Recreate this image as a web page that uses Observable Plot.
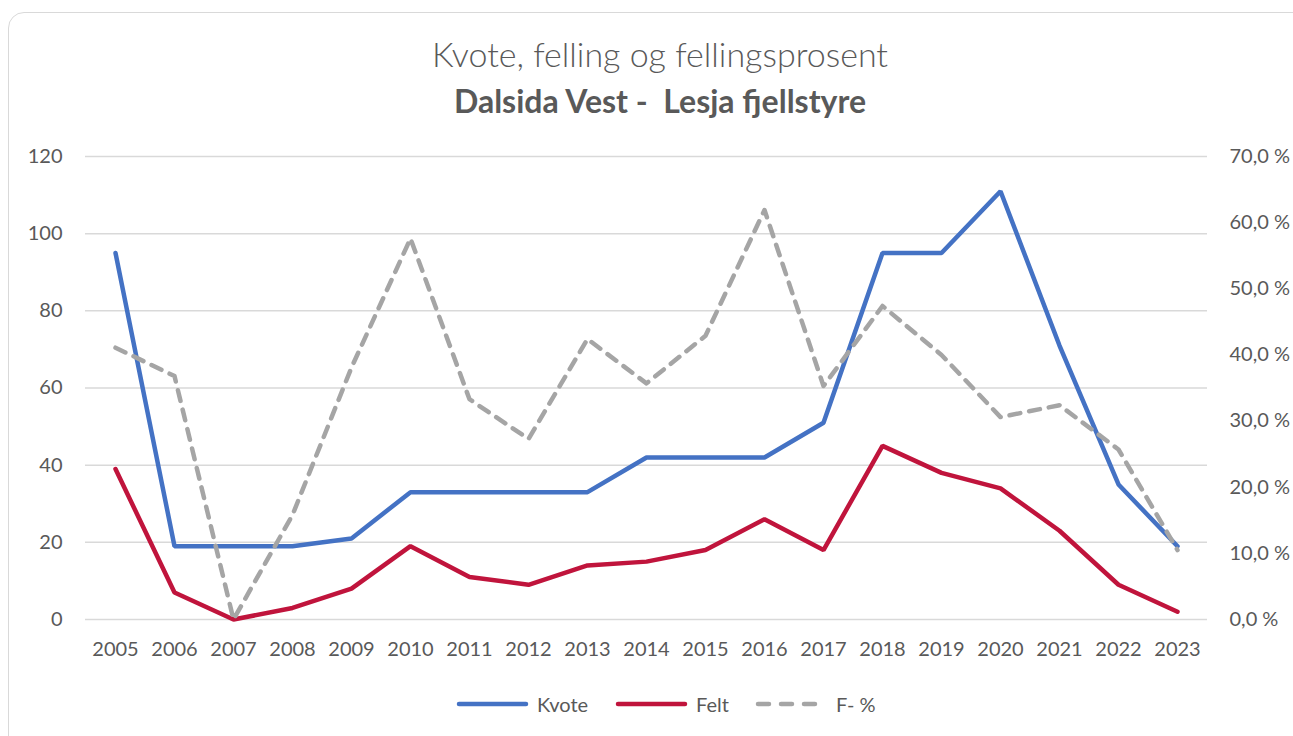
<!DOCTYPE html>
<html>
<head>
<meta charset="utf-8">
<script src="https://cdn.jsdelivr.net/npm/d3@7"></script>
<script src="https://cdn.jsdelivr.net/npm/@observablehq/plot@0.6"></script>
<style>
  html, body { margin:0; padding:0; background:#fff; width:1293px; height:736px; overflow:hidden; }
  body { position:relative; font-family: Lato, "Open Sans", sans-serif; color:#595959; }
  #frame { position:absolute; left:8px; top:12px; width:1310px; height:760px; border:1.5px solid #d9d9d9; border-radius:16px; box-sizing:border-box; }
  #t1 { position:absolute; left:0; width:1320px; top:33px; text-align:center; font-size:34px; font-weight:300; white-space:pre; line-height:normal; }
  #t2 { position:absolute; left:0; width:1320px; top:81px; text-align:center; font-size:32px; font-weight:700; white-space:pre; line-height:normal; }
  #chart { position:absolute; left:0; top:140px; }
  #legend { position:absolute; top:690px; left:0; width:1293px; height:28px; }
  .item { position:absolute; top:0; display:flex; align-items:center; font-size:20px; height:28px; }
  .item svg { margin-right:7px; }
</style>
</head>
<body>
<div id="frame"></div>
<div id="t1">Kvote, felling og fellingsprosent</div>
<div id="t2">Dalsida Vest -  Lesja fjellstyre</div>
<div id="chart"></div>
<div id="legend"></div>
<script>
// ---- data ----
const years = [2005,2006,2007,2008,2009,2010,2011,2012,2013,2014,2015,2016,2017,2018,2019,2020,2021,2022,2023];
const kvote = [95,19,19,19,21,33,33,33,33,42,42,42,51,95,95,111,71,35,19];
const felt  = [39,7,0,3,8,19,11,9,14,15,18,26,18,45,38,34,23,9,2];
const fpct  = [41.1,36.8,0,15.8,38.1,57.6,33.3,27.3,42.4,35.7,42.9,61.9,35.3,47.4,40.0,30.6,32.4,25.7,10.5];
const leftTicks  = [0,20,40,60,80,100,120];
const rightTicks = [0,10,20,30,40,50,60,70];
const seriesNames = ["Kvote","Felt","F- %"];
const colors = {"Kvote":"#4472C4","Felt":"#C0143C","F- %":"#A5A5A5"};

// right axis (0–70 %) mapped onto left scale (0–120)
const k = 120/70;
const rows = [];
years.forEach((yr,i)=>{
  rows.push({year:yr, s:"Kvote", v:kvote[i]});
  rows.push({year:yr, s:"Felt", v:felt[i]});
  rows.push({year:yr, s:"F- %", v:fpct[i]*k});
});

const chart = Plot.plot({
  width:1293, height:540,
  marginTop:16, marginBottom:61, marginLeft:85, marginRight:86,
  style:{fontFamily:"Lato, 'Open Sans', sans-serif", fontSize:"20px", color:"#595959", background:"transparent", overflow:"visible"},
  x:{type:"point", domain:years, padding:0.5},
  y:{domain:[0,120]},
  marks:[
    Plot.gridY(leftTicks, {stroke:"#d9d9d9", strokeOpacity:1, strokeWidth:1.5}),
    Plot.axisY(leftTicks, {anchor:"left", tickSize:0, tickPadding:23, label:null, fill:"#595959"}),
    Plot.axisY(rightTicks.map(v=>v*k), {anchor:"right", tickSize:0, tickPadding:22, label:null, fill:"#595959",
      tickFormat: d => (d/k).toFixed(1).replace(".", ",") + " %"}),
    Plot.axisX({tickSize:0, tickPadding:22, label:null, fill:"#595959", tickFormat: d => String(d)}),
    Plot.line(rows.filter(r=>r.s==="Kvote"), {x:"year", y:"v", stroke:colors["Kvote"], strokeWidth:4.5, strokeLinejoin:"miter", strokeLinecap:"round"}),
    Plot.line(rows.filter(r=>r.s==="Felt"), {x:"year", y:"v", stroke:colors["Felt"], strokeWidth:4.5, strokeLinejoin:"miter", strokeLinecap:"round"}),
    Plot.line(rows.filter(r=>r.s==="F- %"), {x:"year", y:"v", stroke:colors["F- %"], strokeWidth:4.5, strokeDasharray:"11,9", strokeLinejoin:"round", strokeLinecap:"round"})
  ]
});
document.getElementById("chart").appendChild(chart);

// legend
const legend = document.getElementById("legend");
const lefts = [456, 615, 755];
seriesNames.forEach((name,i)=>{
  const d = document.createElement("div");
  d.className = "item";
  d.style.left = lefts[i] + "px";
  const dash = name === "F- %" ? 'stroke-dasharray="11,12"' : '';
  d.innerHTML = `<svg width="74" height="10"><line x1="3" y1="5" x2="70" y2="5" stroke="${colors[name]}" stroke-width="4.5" stroke-linecap="round" ${dash}/></svg><span>${name}</span>`;
  legend.appendChild(d);
});
</script>
</body>
</html>
